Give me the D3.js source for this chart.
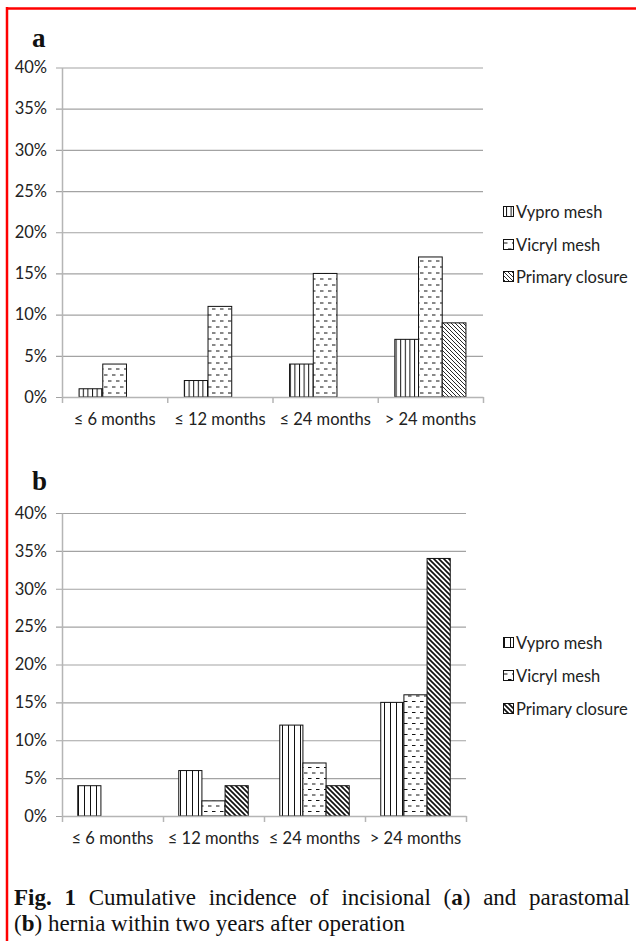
<!DOCTYPE html>
<html>
<head>
<meta charset="utf-8">
<title>Fig. 1 hernia incidence</title>
<script src="https://cdn.jsdelivr.net/npm/d3@7"></script>
<style>
  body { margin: 0; background: #fff; }
  svg { display: block; }
  .tick text { font-family: Lato, "Open Sans", sans-serif; font-size: 16.5px; fill: #222; }
  .legend text { font-family: Lato, "Open Sans", sans-serif; font-size: 16.5px; fill: #222; }
  .panel-letter { font-family: "Liberation Serif", serif; font-weight: bold; font-size: 27px; fill: #111; }
  .caption { font-family: "Liberation Serif", serif; font-size: 23px; fill: #111; }
</style>
</head>
<body>
<div id="fig"></div>
<script>
// data (percent)
var categories = ["\u2264 6 months", "\u2264 12 months", "\u2264 24 months", "> 24 months"];
var seriesNames = ["Vypro mesh", "Vicryl mesh", "Primary closure"];
var yTicks = [0, 5, 10, 15, 20, 25, 30, 35, 40];

var incisionalVypro = [1, 2, 4, 7];
var incisionalVicryl = [4, 11, 15, 17];
var incisionalPrimary = [0, 0, 0, 9];

var parastomalVypro = [4, 6, 12, 15];
var parastomalVicryl = [0, 2, 7, 16];
var parastomalPrimary = [0, 4, 4, 34];

var W = 636, H = 941;

var svg = d3.select("#fig").append("svg")
  .attr("width", W)
  .attr("height", H);

var defs = svg.append("defs");

function makePattern(id, w, h, d, sw) {
  var p = defs.append("pattern")
    .attr("id", id)
    .attr("patternUnits", "userSpaceOnUse")
    .attr("width", w)
    .attr("height", h);
  p.append("rect").attr("width", w).attr("height", h).attr("fill", "#fff");
  p.append("path").attr("d", d)
    .attr("stroke", "#111")
    .attr("stroke-width", sw)
    .attr("fill", "none");
}

// chart a patterns
makePattern("vertA", 4.6, 10, "M0.5,0V10", 1);
makePattern("dashA", 8, 12, "M0,3h3.5M4,9h3.5", 1);
makePattern("diagA", 4, 4, "M0,0L4,4M-1,3L1,5M3,-1L5,1", 0.9);
// chart b patterns
makePattern("vertB", 6, 10, "M0.5,0V10", 1);
makePattern("dashB", 8, 11, "M0,3h3.5M4,8.5h3.5", 1);
makePattern("diagB", 5, 5, "M0,0L5,5M-1.5,3.5L1.5,6.5M3.5,-1.5L6.5,1.5", 1.7);

// red frame
svg.append("line").attr("x1", 6).attr("x2", W).attr("y1", 8.5).attr("y2", 8.5)
  .attr("stroke", "#f00").attr("stroke-width", 2.5);
svg.append("line").attr("x1", 7).attr("x2", 7).attr("y1", 7).attr("y2", H)
  .attr("stroke", "#f00").attr("stroke-width", 2.5);

function drawChart(cfg) {
  var g = svg.append("g");

  var y = d3.scaleLinear().domain([0, 40]).range([cfg.y0, cfg.y1]);
  var x = d3.scaleBand().domain(categories).range([cfg.x0, cfg.x1]);
  var xs = d3.scaleBand().domain(seriesNames).range([0, x.bandwidth()])
    .paddingOuter(cfg.pad);
  var xEdge = d3.scaleLinear().domain([0, categories.length]).range([cfg.x0, cfg.x1]);

  // gridlines
  g.append("g")
    .attr("transform", translate(cfg.x0 - 6, 0))
    .call(d3.axisLeft(y).tickValues(yTicks).tickSize(-(cfg.x1 - cfg.x0 + 6)).tickFormat(""))
    .call(function(s) {
      s.select(".domain").remove();
      s.selectAll("line").attr("stroke", "#a3a3a3").attr("stroke-width", 1.2);
    });

  // y labels + axis line
  g.append("g")
    .attr("transform", translate(cfg.x0, 0))
    .call(d3.axisLeft(y).tickValues(yTicks).tickSize(0).tickSizeOuter(0).tickPadding(15)
      .tickFormat(function(d) { return d + "%"; }))
    .call(function(s) {
      s.select(".domain").attr("stroke", "#b5b5b5").attr("stroke-width", 1.5);
    });

  // bars
  var series = [
    { name: seriesNames[0], values: cfg.vypro, fill: cfg.pat[0] },
    { name: seriesNames[1], values: cfg.vicryl, fill: cfg.pat[1] },
    { name: seriesNames[2], values: cfg.primary, fill: cfg.pat[2] }
  ];

  series.forEach(function(s) {
    var rows = categories.map(function(c, i) { return { cat: c, v: s.values[i] }; })
      .filter(function(r) { return r.v > 0; });
    g.selectAll(null)
      .data(rows)
      .enter()
      .append("rect")
      .attr("x", function(r) { return x(r.cat) + xs(s.name); })
      .attr("y", function(r) { return y(r.v); })
      .attr("width", xs.bandwidth())
      .attr("height", function(r) { return y(0) - y(r.v); })
      .attr("fill", "url(#" + s.fill + ")")
      .attr("stroke", "#111")
      .attr("stroke-width", 1);
  });

  // x axis: baseline with boundary ticks
  g.append("g")
    .attr("transform", translate(0, cfg.y0))
    .call(d3.axisBottom(xEdge).tickValues(d3.range(categories.length + 1))
      .tickSize(6).tickSizeOuter(0).tickFormat(""))
    .call(function(s) {
      s.select(".domain").attr("stroke", "#b5b5b5").attr("stroke-width", 1.5);
      s.selectAll("line").attr("stroke", "#b5b5b5").attr("stroke-width", 1.5);
    });

  // category labels
  g.append("g")
    .attr("transform", translate(0, cfg.y0))
    .call(d3.axisBottom(x).tickSize(0).tickPadding(16))
    .call(function(s) { s.select(".domain").remove(); });

  // panel letter
  g.append("text")
    .attr("class", "panel-letter")
    .attr("x", 32)
    .attr("y", cfg.letterY)
    .text(cfg.letter);

  // legend
  var lg = g.append("g").attr("class", "legend");
  series.forEach(function(s, i) {
    var cy = cfg.legendY[i];
    lg.append("rect")
      .attr("x", 503.5).attr("y", cy - 5.5)
      .attr("width", 10).attr("height", 10)
      .attr("fill", "url(#" + s.fill + ")")
      .attr("stroke", "#111").attr("stroke-width", 1);
    lg.append("text")
      .attr("x", 516)
      .attr("y", cy)
      .attr("dy", "0.35em")
      .text(s.name);
  });
}

drawChart({
  letter: "a", letterY: 47,
  x0: 62, x1: 483, y0: 397, y1: 67.5, pad: 0.72,
  vypro: incisionalVypro, vicryl: incisionalVicryl, primary: incisionalPrimary,
  pat: ["vertA", "dashA", "diagA"],
  legendY: [212, 245, 277]
});

drawChart({
  letter: "b", letterY: 490,
  x0: 62, x1: 466, y0: 816, y1: 513, pad: 0.68,
  vypro: parastomalVypro, vicryl: parastomalVicryl, primary: parastomalPrimary,
  pat: ["vertB", "dashB", "diagB"],
  legendY: [643, 676, 709]
});

// caption, first line justified
var capLeft = 14, capRight = 630;
var line1 = [
  [["Fig.", true]], [["1", true]], [["Cumulative", false]], [["incidence", false]],
  [["of", false]], [["incisional", false]], [["(", false], ["a", true], [")", false]],
  [["and", false]], [["parastomal", false]]
];
var t1 = svg.append("text").attr("class", "caption").attr("y", 905);
var wordNodes = line1.map(function(word) {
  return word.map(function(part) {
    return t1.append("tspan")
      .attr("font-weight", part[1] ? "bold" : null)
      .text(part[0]);
  });
});
var widths = wordNodes.map(function(parts) {
  return d3.sum(parts, function(p) { return p.node().getComputedTextLength(); });
});
var gap = (capRight - capLeft - d3.sum(widths)) / (line1.length - 1);
var cx = capLeft;
wordNodes.forEach(function(parts, i) {
  parts[0].attr("x", cx);
  cx += widths[i] + gap;
});

var t2 = svg.append("text").attr("class", "caption").attr("x", capLeft).attr("y", 931);
t2.append("tspan").text("(");
t2.append("tspan").attr("font-weight", "bold").text("b");
t2.append("tspan").text(") hernia within two years after operation");

function translate(x, y) {
  return "translate(" + x + "," + y + ")";
}
</script>
</body>
</html>
